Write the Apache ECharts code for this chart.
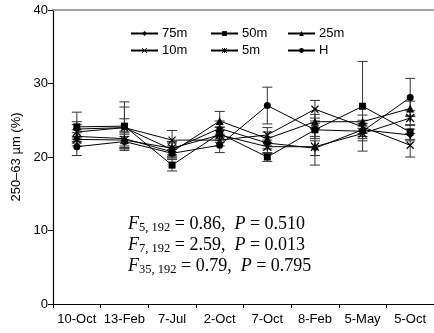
<!DOCTYPE html>
<html><head><meta charset="utf-8">
<script src="https://cdn.jsdelivr.net/npm/echarts@6/dist/echarts.min.js"></script>
<style>html,body{margin:0;padding:0;background:#fff}#c{width:434px;height:333px}</style>
</head><body><div id="c"></div>
<script>
const categories = ['10-Oct','13-Feb','7-Jul','2-Oct','7-Oct','8-Feb','5-May','5-Oct'];
const seriesNames = ['75m','50m','25m','10m','5m','H'];
const v75 = [23.8, 24.0, 21.0, 23.9, 21.9, 21.2, 23.7, 23.0];
const v50 = [24.1, 24.2, 18.9, 23.2, 20.0, 23.7, 26.9, 23.4];
const v25 = [22.8, 22.5, 20.7, 24.9, 22.5, 24.8, 24.8, 26.6];
const v10 = [23.4, 24.0, 22.3, 22.3, 23.0, 26.5, 24.1, 21.6];
const v5  = [22.4, 22.3, 21.2, 23.0, 21.4, 21.4, 23.2, 25.3];
const vH  = [21.4, 22.1, 20.5, 21.6, 27.0, 23.7, 23.5, 28.1];
const e75 = [1.0, 1.2, 0.9, 1.0, 0.8, 1.0, 0.9, 0.8];
const e50 = [2.0, 3.3, 0.8, 0.9, 0.6, 0.9, 6.1, 1.0];
const e25 = [0.9, 1.0, 0.8, 1.3, 0.9, 1.0, 0.9, 1.0];
const e10 = [1.0, 2.8, 1.3, 0.8, 1.0, 1.2, 0.9, 1.6];
const e5  = [0.9, 1.0, 0.9, 1.0, 0.9, 2.5, 1.0, 1.0];
const eH  = [1.2, 1.0, 0.8, 1.0, 2.5, 1.2, 1.0, 2.6];
const yTicks = [0, 10, 20, 30, 40];

const values = [v75, v50, v25, v10, v5, vH];
const errors = [e75, e50, e25, e10, e5, eH];
const symbols = [
  'diamond', 'rect', 'triangle',
  'path://M0,0L10,10M10,0L0,10',
  'path://M0,0L10,10M10,0L0,10M5,0L5,10',
  'circle'
];
const symSizes = [7, 7, 8, 7, 8, 7];
const strokeSym = [false,false,false,true,true,false];

const series = [];
seriesNames.forEach((n, i) => {
  series.push({
    type: 'custom', name: n + '_err', silent: true, z: 1,
    data: categories.map((c, k) => [k, values[i][k], errors[i][k]]),
    renderItem: function (params, api) {
      const x = api.value(0), y = api.value(1), e = api.value(2);
      const top = api.coord([x, y + e]), bot = api.coord([x, y - e]);
      const hw = 5;
      const st = { stroke: '#333', lineWidth: 1 };
      return { type: 'group', children: [
        { type: 'line', shape: { x1: top[0], y1: top[1], x2: bot[0], y2: bot[1] }, style: st },
        { type: 'line', shape: { x1: top[0]-hw, y1: top[1], x2: top[0]+hw, y2: top[1] }, style: st },
        { type: 'line', shape: { x1: bot[0]-hw, y1: bot[1], x2: bot[0]+hw, y2: bot[1] }, style: st }
      ]};
    }
  });
  series.push({
    type: 'line', name: n, z: 3, data: values[i],
    symbol: symbols[i], symbolSize: symSizes[i], showAllSymbol: true,
    lineStyle: { color: '#000', width: 1 },
    itemStyle: strokeSym[i] ? { color: '#000', borderColor: '#000', borderWidth: 1.2 } : { color: '#000', borderWidth: 0 },
    emphasis: { disabled: true }, animation: false
  });
});

const legendPos = [[130, 27], [210, 27], [287, 27], [130, 44], [210, 44], [287, 44]];
const legends = seriesNames.map((n, i) => ({
  data: [n], left: legendPos[i][0], top: legendPos[i][1],
  itemWidth: 27, itemHeight: 6, itemGap: 0, padding: 0,
  itemStyle: strokeSym[i] ? { borderWidth: 1, borderColor: '#000' } : {},
  textStyle: { fontFamily: 'Liberation Sans', fontSize: 13, color: '#000', padding: [0,0,0,-1] },
  selectedMode: false
}));

const rich = {
  i: { fontFamily: 'Liberation Serif', fontStyle: 'italic', fontSize: 18, color: '#000' },
  s: { fontFamily: 'Liberation Serif', fontSize: 12.5, color: '#000', padding: [7, 0, 0, 0] },
  n: { fontFamily: 'Liberation Serif', fontSize: 18, color: '#000' }
};
const statLines = [
  ['5, 192', '0.86', '0.510'],
  ['7, 192', '2.59', '0.013'],
  ['35, 192', '0.79', '0.795']
];

const chart = echarts.init(document.getElementById('c'), null, { renderer: 'canvas' });
chart.setOption({
  animation: false,
  backgroundColor: '#fff',
  legend: legends,
  grid: { left: 53, top: 10, right: -9, bottom: 29, containLabel: false },
  xAxis: [{
    type: 'category', data: categories, boundaryGap: true,
    axisLine: { lineStyle: { color: '#000', width: 1.2 } },
    axisTick: { show: true, length: 4, lineStyle: { color: '#000' }, alignWithLabel: false },
    axisLabel: { color: '#000', fontFamily: 'Liberation Sans', fontSize: 13, margin: 9, interval: 0 }
  }, {
    type: 'category', data: categories, position: 'top',
    axisLine: { show: true, lineStyle: { color: '#888', width: 1.5 } },
    axisTick: { show: false }, axisLabel: { show: false }
  }],
  yAxis: {
    type: 'value', min: yTicks[0], max: yTicks[yTicks.length-1], interval: 10,
    name: '250–63 µm (%)', nameLocation: 'middle', nameGap: 30, nameRotate: 90,
    nameTextStyle: { color: '#000', fontFamily: 'Liberation Sans', fontSize: 13 },
    axisLine: { show: true, lineStyle: { color: '#000', width: 1.2 } },
    axisTick: { show: true, length: 5, lineStyle: { color: '#000' } },
    axisLabel: { color: '#000', fontFamily: 'Liberation Sans', fontSize: 13, margin: 5 },
    splitLine: { show: false }
  },
  graphic: statLines.map((l, k) => ({
    type: 'text', left: 128, top: 215 + k * 21,
    style: {
      text: '{i|F}{s|' + l[0] + '}{n| = ' + l[1] + ',  }{i|P}{n| = ' + l[2] + '}',
      rich: rich
    }
  })),
  series: series
});
</script></body></html>
